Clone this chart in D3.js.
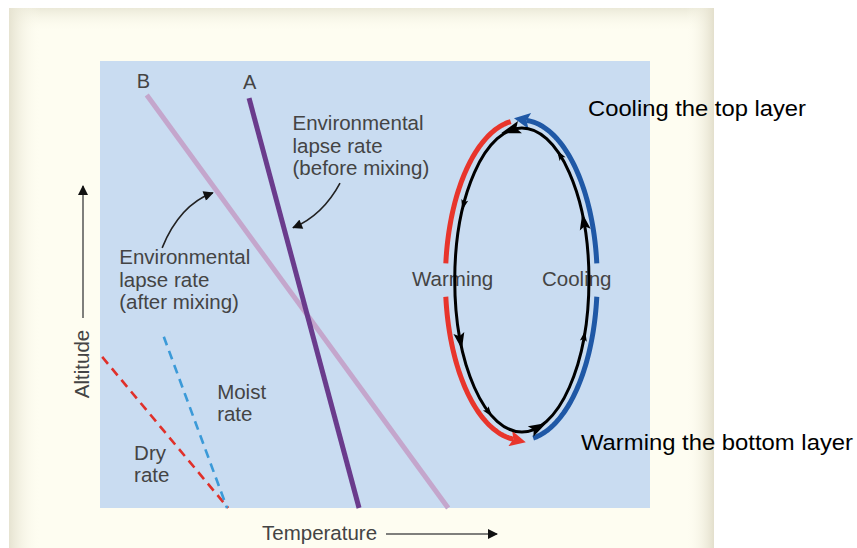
<!DOCTYPE html>
<html><head><meta charset="utf-8">
<script src="https://cdn.jsdelivr.net/npm/d3@7"></script>
<style>
html,body{margin:0;padding:0;background:#fff;}
svg{display:block;font-family:"Liberation Sans",Arial,Helvetica,sans-serif;}
</style></head>
<body><svg id="chart" width="857" height="548"></svg>
<script>
// ---------- data (temperature / altitude in arbitrary units 0..10) ----------
const lineNames      = ["B", "A", "Dry", "Moist"];
const lineTopTemp    = [0.85, 2.71, 0.04, 1.16];
const lineTopAlt     = [9.24, 9.17, 3.38, 3.83];
const lineBottomTemp = [6.33, 4.71, 2.33, 2.31];
const lineBottomAlt  = [0, 0, 0, 0];
const lineColors     = ["#c4a6cc", "#6a3b8c", "#e0302a", "#3b9ad8"];
const lineDashed     = [false, false, true, true];

const letterLabels   = ["B", "A"];
const letterTemp     = [0.79, 2.72];
const letterAlt      = [9.40, 9.38];

const textBlocks = [
  ["Environmental", "lapse rate", "(before mixing)"],
  ["Environmental", "lapse rate", "(after mixing)"],
  ["Moist", "rate"],
  ["Dry", "rate"]
];
const textTemp = [3.50, 0.35, 2.13, 0.62];
const textAlt  = [8.45, 5.45, 2.44, 1.08];

// circulation cell
const cellCenterTemp = 7.67, cellCenterAlt = 5.10;
const cellRadiusTemp = 1.22, cellRadiusAlt = 3.40;
const outerCenterTemp = 7.66, outerRadiusTemp = 1.38, outerRadiusAlt = 3.58;
const cellLabels = ["Warming", "Cooling"];
const sideLabels = ["Cooling the top layer", "Warming the bottom layer"];

// ---------- layout ----------
const svg = d3.select("#chart");
const x = d3.scaleLinear().domain([0, 10]).range([100, 650]);
const y = d3.scaleLinear().domain([0, 10]).range([508, 61]);

const defs = svg.append("defs");
function grad(id, x1, y1, x2, y2, c1, o1, c2, o2) {
  const g = defs.append("linearGradient").attr("id", id)
    .attr("x1", x1).attr("y1", y1).attr("x2", x2).attr("y2", y2);
  g.append("stop").attr("offset", "0%").attr("stop-color", c1).attr("stop-opacity", o1);
  g.append("stop").attr("offset", "100%").attr("stop-color", c2).attr("stop-opacity", o2);
}
grad("gl", 0, 0, 1, 0, "#e6e3d1", 1, "#fefdf1", 0);
grad("gr", 0, 0, 1, 0, "#fefdf1", 0, "#e3dfcc", 1);
grad("gt", 0, 0, 0, 1, "#ebe9d8", 1, "#fefdf1", 0);

// cream frame
svg.append("rect").attr("x", 9).attr("y", 8).attr("width", 705).attr("height", 545).attr("fill", "#fefdf1");
svg.append("rect").attr("x", 9).attr("y", 8).attr("width", 705).attr("height", 24).attr("fill", "url(#gt)");
svg.append("rect").attr("x", 9).attr("y", 8).attr("width", 32).attr("height", 545).attr("fill", "url(#gl)");
svg.append("rect").attr("x", 686).attr("y", 8).attr("width", 28).attr("height", 545).attr("fill", "url(#gr)");

// plot background
svg.append("rect").attr("x", x(0)).attr("y", y(10)).attr("width", x(10) - x(0)).attr("height", y(0) - y(10))
  .attr("fill", "#c9dcf1");

// arrow markers
defs.append("marker").attr("id", "ah").attr("viewBox", "0 0 10 10").attr("refX", 9).attr("refY", 5)
  .attr("markerWidth", 12).attr("markerHeight", 10).attr("markerUnits", "userSpaceOnUse").attr("orient", "auto")
  .append("path").attr("d", "M0,0 L10,5 L0,10 Z").attr("fill", "#111");

// lapse-rate lines
const lineData = lineNames.map((n, i) => ({
  n, x1: lineTopTemp[i], y1: lineTopAlt[i], x2: lineBottomTemp[i], y2: lineBottomAlt[i],
  c: lineColors[i], dashed: lineDashed[i]
}));
svg.append("g").selectAll("line").data(lineData).join("line")
  .attr("x1", d => x(d.x1)).attr("y1", d => y(d.y1))
  .attr("x2", d => x(d.x2)).attr("y2", d => y(d.y2))
  .attr("stroke", d => d.c)
  .attr("stroke-width", d => d.dashed ? 2.6 : 5)
  .attr("stroke-dasharray", d => d.dashed ? "9,6" : null);

// letters
svg.append("g").selectAll("text").data(letterLabels).join("text")
  .attr("x", (d, i) => x(letterTemp[i])).attr("y", (d, i) => y(letterAlt[i]))
  .attr("text-anchor", "middle").attr("font-size", 20).attr("fill", "#444").text(d => d);

// text blocks
textBlocks.forEach((lines, i) => {
  const t = svg.append("text").attr("x", x(textTemp[i])).attr("y", y(textAlt[i]))
    .attr("font-size", 20.5).attr("fill", "#444");
  lines.forEach((l, j) => t.append("tspan").attr("x", x(textTemp[i])).attr("dy", j === 0 ? 0 : 22.5).text(l));
});

// annotation arrows (curved)
const annArrows = [
  {from: [4.364, 7.27], ctrl: [4.05, 6.55], to: [3.51, 6.27]},
  {from: [1.13, 5.82], ctrl: [1.45, 6.78], to: [2.05, 7.05]}
];
svg.append("g").selectAll("path").data(annArrows).join("path")
  .attr("d", d => `M${x(d.from[0])},${y(d.from[1])} Q${x(d.ctrl[0])},${y(d.ctrl[1])} ${x(d.to[0])},${y(d.to[1])}`)
  .attr("fill", "none").attr("stroke", "#222").attr("stroke-width", 1.6).attr("marker-end", "url(#ah)");

// axis titles with arrows
svg.append("text").attr("transform", `translate(89,364) rotate(-90)`).attr("text-anchor", "middle")
  .attr("font-size", 20.5).attr("fill", "#444").text("Altitude");
svg.append("line").attr("x1", 83).attr("y1", 318).attr("x2", 83).attr("y2", 186)
  .attr("stroke", "#555").attr("stroke-width", 1.5).attr("marker-end", "url(#ah)");
svg.append("text").attr("x", 262).attr("y", 540).attr("font-size", 20.5).attr("fill", "#444").text("Temperature");
svg.append("line").attr("x1", 386).attr("y1", 534).attr("x2", 497).attr("y2", 534)
  .attr("stroke", "#555").attr("stroke-width", 1.5).attr("marker-end", "url(#ah)");

// circulation cell: colored outer arcs
const deg = Math.PI / 180;
function arcPath(cxT, cyA, rT, rA, a0, a1) {
  const cx = x(cxT), cy = y(cyA), rx = x(cxT + rT) - cx, ry = y(cyA) - y(cyA + rA);
  const pts = d3.range(0, 61).map(k => {
    const a = (a0 + (a1 - a0) * k / 60) * deg;
    return [cx + rx * Math.sin(a), cy - ry * Math.cos(a)];
  });
  return d3.line()(pts);
}
const cellArcs = [
  {a0: -8, a1: -84, c: "#e8352c", head: false},
  {a0: -96, a1: -174, c: "#e8352c", head: true},
  {a0: 171, a1: 96, c: "#1f58a6", head: false},
  {a0: 84, a1: 4, c: "#1f58a6", head: true}
];
["#e8352c", "#1f58a6"].forEach((c, i) => {
  defs.append("marker").attr("id", "big" + i).attr("viewBox", "0 0 10 10").attr("refX", 2).attr("refY", 5)
    .attr("markerWidth", 28).attr("markerHeight", 16).attr("markerUnits", "userSpaceOnUse").attr("orient", "auto")
    .append("path").attr("d", "M0,0 L10,5 L0,10 L2,5 Z").attr("fill", c);
});
svg.append("g").selectAll("path").data(cellArcs).join("path")
  .attr("d", d => arcPath(outerCenterTemp, cellCenterAlt, outerRadiusTemp, outerRadiusAlt, d.a0, d.a1))
  .attr("fill", "none").attr("stroke", d => d.c).attr("stroke-width", 5)
  .attr("marker-end", d => d.head ? (d.c === "#e8352c" ? "url(#big0)" : "url(#big1)") : null);

// Warming / Cooling labels (under the black loop)
svg.append("g").selectAll("text").data(cellLabels).join("text")
  .attr("x", (d, i) => i === 0 ? 412 : 542).attr("y", 286)
  .attr("font-size", 20.5).attr("fill", "#444").text(d => d);

// black loop
const ccx = x(cellCenterTemp), ccy = y(cellCenterAlt);
const crx = x(cellCenterTemp + cellRadiusTemp) - ccx, cry = y(cellCenterAlt) - y(cellCenterAlt + cellRadiusAlt);
svg.append("ellipse").attr("cx", ccx).attr("cy", ccy).attr("rx", crx).attr("ry", cry)
  .attr("fill", "none").attr("stroke", "#000").attr("stroke-width", 3);
const loopHeads = [[-8, 1.3], [-113, 1.1], [-193, 1.2], [68, 1.1], [35, 0.7], [112, 0.7], [-150, 0.7], [-60, 0.7]];
svg.append("g").selectAll("path").data(loopHeads).join("path")
  .attr("d", d => {
    const s = d[1];
    return `M${9 * s},0 L${-6 * s},${-5 * s} L${-3 * s},0 L${-6 * s},${5 * s} Z`;
  })
  .attr("transform", d => {
    const a = d[0] * deg;
    const px = ccx + crx * Math.sin(a), py = ccy - cry * Math.cos(a);
    const ang = Math.atan2(-cry * Math.sin(a), -crx * Math.cos(a)) / deg;
    return `translate(${px},${py}) rotate(${ang})`;
  })
  .attr("fill", "#000");

// side labels
svg.append("text").attr("x", 588).attr("y", 116).attr("font-size", 22).attr("fill", "#000")
  .attr("textLength", 218).attr("lengthAdjust", "spacingAndGlyphs").text(sideLabels[0]);
svg.append("text").attr("x", 581).attr("y", 450).attr("font-size", 22).attr("fill", "#000")
  .attr("textLength", 272).attr("lengthAdjust", "spacingAndGlyphs").text(sideLabels[1]);
</script></body></html>
